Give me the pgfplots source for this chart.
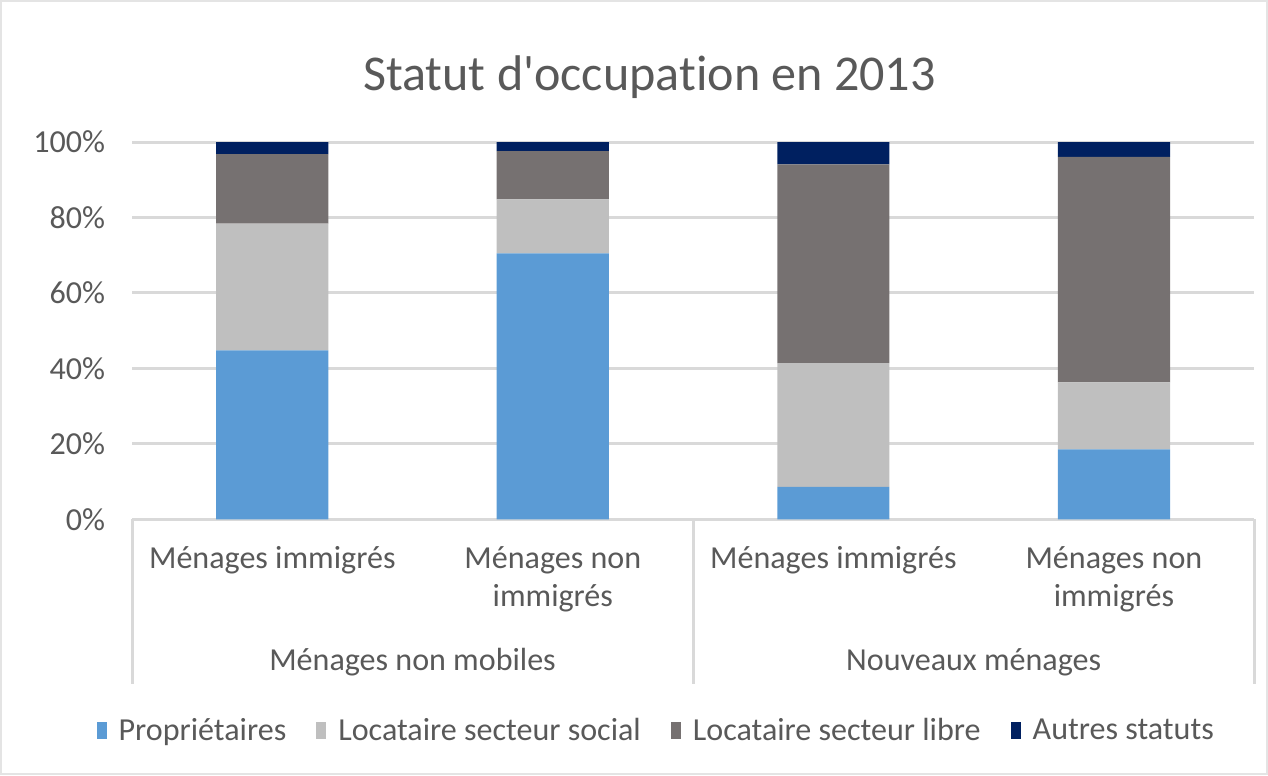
\documentclass[border=0pt]{standalone}
\usepackage{pgfplots}
\pgfplotsset{compat=1.18}
\usepackage{fontspec}
\setmainfont{Carlito}[Ligatures={NoCommon,TeXOff}]
\definecolor{cprop}{HTML}{5B9BD5}
\definecolor{csoc}{HTML}{BFBFBF}
\definecolor{clib}{HTML}{767171}
\definecolor{caut}{HTML}{002060}
\definecolor{gridc}{HTML}{D9D9D9}
\definecolor{txt}{HTML}{595959}
\begin{document}
\begin{tikzpicture}
\path[draw=gridc!70, line width=0.8pt] (1pt,0.5pt) rectangle (633pt,386.5pt);
\node[anchor=base, font=\fontsize{25}{30}\selectfont, text=txt] at (324.75pt,341.5pt) {Statut d'occupation en 2013};
\begin{axis}[
  at={(66.5pt,127.75pt)}, anchor=south west,
  scale only axis, width=560pt, height=188.25pt,
  ybar stacked, bar width=56pt,
  xmin=-0.5, xmax=3.5, ymin=0, ymax=100,
  clip=false,
  axis line style={draw=none},
  major tick length=0pt,
  ytick={0,20,40,60,80,100},
  yticklabel={\pgfmathprintnumber{\tick}\%},
  /pgf/number format/assume math mode=true,
  yticklabel style={font=\fontsize{16}{19}\selectfont, text=txt, anchor=east, xshift=-10pt},
  ymajorgrids, grid style={draw=gridc, line width=1.5pt},
  xtick={0,1,2,3},
  xticklabels={Ménages immigrés, {Ménages non\\immigrés}, Ménages immigrés, {Ménages non\\immigrés}},
  xticklabel style={font=\fontsize{16}{19}\selectfont, text=txt, align=flush center, text width=135pt, anchor=north, yshift=-10pt},
  legend columns=4,
  legend style={at={(0.468,-0.5617)}, anchor=center, draw=none, fill=none,
    font=\fontsize{16}{19}\selectfont, text=txt,
    /tikz/every odd column/.append style={column sep=4pt},
    /tikz/every even column/.append style={column sep=13pt}},
  legend image code/.code={\fill[#1] (0pt,-4pt) rectangle (5pt,4.5pt);},
]
\addplot[fill=cprop, draw=none] coordinates {(0,44.8) (1,70.5) (2,8.6) (3,18.5)};
\addplot[fill=csoc, draw=none] coordinates {(0,33.6) (1,14.3) (2,32.8) (3,17.8)};
\addplot[fill=clib, draw=none] coordinates {(0,18.4) (1,12.8) (2,52.7) (3,59.8)};
\addplot[fill=caut, draw=none] coordinates {(0,3.2) (1,2.4) (2,5.9) (3,3.9)};
\legend{Propriétaires, Locataire secteur social, Locataire secteur libre, Autres statuts}
\draw[gridc, line width=1.5pt] (axis cs:-0.5,0) -- (axis cs:-0.5,-43.7);
\draw[gridc, line width=1.5pt] (axis cs:1.5,0) -- (axis cs:1.5,-43.7);
\draw[gridc, line width=1.5pt] (axis cs:3.5,0) -- (axis cs:3.5,-43.7);
\node[anchor=base, font=\fontsize{16}{19}\selectfont, text=txt] at (axis cs:0.5,-40.2) {Ménages non mobiles};
\node[anchor=base, font=\fontsize{16}{19}\selectfont, text=txt] at (axis cs:2.5,-40.2) {Nouveaux ménages};
\end{axis}
\end{tikzpicture}
\end{document}
